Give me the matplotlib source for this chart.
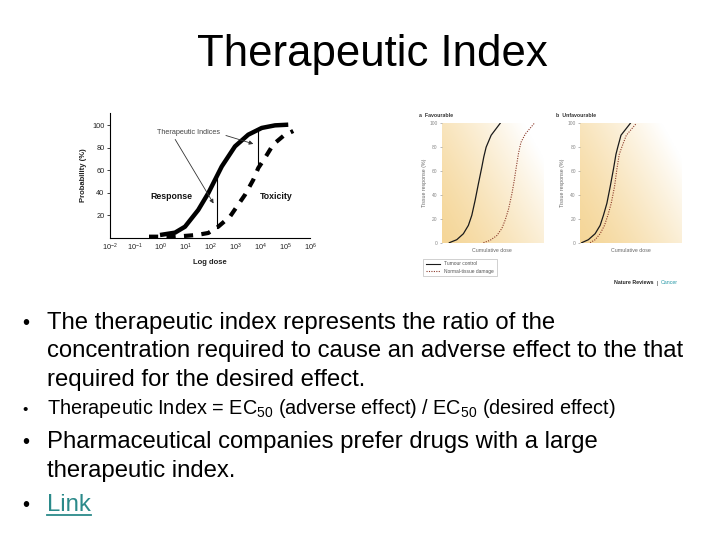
import numpy as np
import matplotlib
matplotlib.use("Agg")
import matplotlib.pyplot as plt
from matplotlib.lines import Line2D

plt.rcParams['font.family'] = ['Liberation Sans', 'DejaVu Sans']
plt.rcParams['mathtext.fontset'] = 'custom'
plt.rcParams['mathtext.rm'] = 'Liberation Sans'
plt.rcParams['mathtext.it'] = 'Liberation Sans:italic'
plt.rcParams['mathtext.bf'] = 'Liberation Sans:bold'

# ---------------- data ----------------
title = "Therapeutic Index"

# left chart: log10(dose) and probability (%)
response_logdose = [0.0, 0.6, 1.0, 1.53, 1.93, 2.2, 2.47, 3.0, 3.53, 4.07, 4.6, 5.13]
response_prob = [2.4, 4.5, 9.8, 24.7, 39.6, 51.5, 63.4, 81.3, 91.7, 97.7, 100.0, 100.6]
toxicity_logdose = [-0.44, 0.6, 1.47, 1.93, 2.33, 2.8, 3.4, 3.73, 3.93, 4.2, 4.53, 4.93, 5.33]
toxicity_prob = [0.9, 0.9, 2.4, 4.2, 9.8, 18.8, 38.2, 51.5, 62.0, 71.0, 83.0, 90.5, 95.0]
index_logdose = [2.29, 3.93]
index_top = [55.0, 96.7]
index_bottom = [8.4, 60.0]
left_xticks_exp = [-2, -1, 0, 1, 2, 3, 4, 5, 6]
left_yticks = [20, 40, 60, 80, 100]

# right panels: cumulative dose (arbitrary) and tissue response (%)
fav_tumour_dose = [7.6, 15.0, 21.6, 26.6, 30.0, 33.3, 36.6, 40.0, 42.0, 44.3, 49.3, 58.3]
fav_tumour_resp = [0, 2.5, 7.5, 14.5, 22.9, 35.4, 49.4, 63.3, 72.0, 80, 90, 100]
fav_normal_dose = [41.6, 48.3, 55.0, 60.0, 63.3, 66.6, 70.0, 72.3, 74.3, 76.6, 79.0, 83.3, 92.3]
fav_normal_resp = [0, 2, 6, 12, 19, 28, 41, 52, 63, 75, 84, 91, 100]
unf_tumour_dose = [1.7, 8.3, 15.0, 20.0, 23.3, 26.7, 30.0, 33.3, 35.7, 37.5, 40.7, 50.0]
unf_tumour_resp = [0, 2.5, 7.5, 14.5, 23, 33, 47, 62, 74, 80, 90, 100]
unf_normal_dose = [10.0, 15.0, 20.0, 24.3, 27.7, 31.0, 34.3, 36.7, 39.0, 41.5, 46.0, 56.0]
unf_normal_resp = [0, 2.5, 7.5, 14.5, 23, 33, 47, 62, 74, 80, 90, 100]
right_yticks = [0, 20, 40, 60, 80, 100]

bullets = [
    ["The therapeutic index represents the ratio of the",
     "concentration required to cause an adverse effect to the that",
     "required for the desired effect."],
    ["Therapeutic Index = EC$_{50}$ (adverse effect) / EC$_{50}$ (desired effect)"],
    ["Pharmaceutical companies prefer drugs with a large",
     "therapeutic index."],
    ["Link"],
]

W, H = 720, 540
fig = plt.figure(figsize=(7.2, 5.4), dpi=100)
fig.patch.set_facecolor('white')


def P(x, y):
    return (x / W, 1 - y / H)


def axrect(x0, y0, x1, y1):
    return [x0 / W, 1 - y1 / H, (x1 - x0) / W, (y1 - y0) / H]


# ---------------- title ----------------
fig.text(*P(372, 66), title, ha='center', va='baseline', fontsize=31.5, color='black')

# ---------------- left chart ----------------
ax = fig.add_axes(axrect(110, 113, 310, 237.7))
ax.set_xscale('log')
ax.set_xlim(10.0 ** -2, 10.0 ** 6)
ax.set_ylim(0, 111)
ax.plot(10 ** np.array(response_logdose), response_prob, color='black', lw=3.2,
        solid_capstyle='butt')
ax.plot(10 ** np.array(toxicity_logdose), toxicity_prob, color='black', lw=3.0,
        dashes=(2.2, 2.0))
for xl, yt, yb in zip(index_logdose, index_top, index_bottom):
    ax.plot([10 ** xl, 10 ** xl], [yb, yt], color='black', lw=0.8)
ax.text(10 ** 1.13, 93.2, "Therapeutic Indices", fontsize=5.2, color='#444444',
        ha='center', va='center')
ax.annotate('', xy=(10 ** 2.2, 28.3), xytext=(10 ** 0.55, 89.6),
            arrowprops=dict(arrowstyle='-|>', lw=0.6, color='#333333', mutation_scale=6))
ax.annotate('', xy=(10 ** 3.84, 82.8), xytext=(10 ** 2.53, 91.7),
            arrowprops=dict(arrowstyle='-|>', lw=0.6, color='#333333', mutation_scale=6))
ax.text(10 ** 0.47, 36.6, "Response", fontsize=6.3, fontweight='bold', ha='center',
        va='center', color='#111111')
ax.text(10 ** 4.67, 36.6, "Toxicity", fontsize=6.3, fontweight='bold', ha='center',
        va='center', color='#111111')
ax.set_xticks([10.0 ** e for e in left_xticks_exp])
ax.set_xticklabels([r"$10^{%d}$" % e for e in left_xticks_exp])
ax.xaxis.set_minor_locator(matplotlib.ticker.NullLocator())
ax.set_yticks(left_yticks)
ax.set_yticklabels([str(v) for v in left_yticks])
ax.tick_params(axis='both', labelsize=5.3, length=2, width=0.6, colors='#222222', pad=2)
ax.tick_params(axis='x', length=0, pad=3)
for s in ['top', 'right']:
    ax.spines[s].set_visible(False)
for s in ['left', 'bottom']:
    ax.spines[s].set_linewidth(0.8)
ax.set_ylabel("Probability (%)", fontsize=5.5, fontweight='bold', labelpad=4, color='#222222')
ax.set_xlabel("Log dose", fontsize=5.5, fontweight='bold', labelpad=4, color='#222222')
ax.patch.set_alpha(0)

# ---------------- right panels ----------------
c0 = np.array([245, 214, 152]) / 255.0
c1 = np.array([255, 255, 255]) / 255.0
gx, gy = np.meshgrid(np.linspace(0, 1, 150), np.linspace(0, 1, 150))
t = np.clip(0.75 * gx + 0.5 * gy, 0, 1.1) / 1.1
t = t ** 1.3
grad = c0[None, None, :] * (1 - t[..., None]) + c1[None, None, :] * t[..., None]


def panel(rect, tdose, tresp, ndose, nresp):
    a = fig.add_axes(rect)
    a.imshow(grad, extent=[0, 101, 0, 100], origin='lower', aspect='auto', zorder=0)
    a.set_xlim(0, 101)
    a.set_ylim(0, 100)
    a.plot(tdose, tresp, color='#1a1a1a', lw=0.9, zorder=3)
    a.plot(ndose, nresp, color='#8b3a2a', lw=0.8, ls=(0, (1, 1.2)), zorder=3)
    a.set_xticks([])
    a.set_yticks(right_yticks)
    a.set_yticklabels([str(v) for v in right_yticks])
    a.tick_params(axis='y', labelsize=3.5, length=1.5, width=0.4, colors='#888888', pad=1.5)
    for s in ['top', 'right', 'bottom', 'left']:
        a.spines[s].set_visible(False)
    a.set_xlabel("Cumulative dose", fontsize=3.8, color='#666666', labelpad=4)
    a.set_ylabel("Tissue response (%)", fontsize=3.8, color='#666666', labelpad=2)
    return a


axa = panel(axrect(441.7, 123.3, 543, 242.7),
            fav_tumour_dose, fav_tumour_resp, fav_normal_dose, fav_normal_resp)
axb = panel(axrect(580, 123.3, 681.7, 242.7),
            unf_tumour_dose, unf_tumour_resp, unf_normal_dose, unf_normal_resp)
fig.text(*P(419, 115), "a  Favourable", fontsize=3.8, fontweight='bold', color='#333333',
         ha='left', va='center')
fig.text(*P(556, 115), "b  Unfavourable", fontsize=3.8, fontweight='bold', color='#333333',
         ha='left', va='center')

handles = [Line2D([], [], color='#1a1a1a', lw=0.8),
           Line2D([], [], color='#8b3a2a', lw=0.8, ls=(0, (1, 1.2)))]
leg = fig.legend(handles, ["Tumour control", "Normal-tissue damage"],
                 loc='upper left', bbox_to_anchor=P(421, 256.5), fontsize=3.5,
                 frameon=True, fancybox=False, edgecolor='#999999', borderpad=0.5,
                 handlelength=3.0, labelspacing=0.5, handletextpad=0.8)
leg.get_frame().set_linewidth(0.4)
for txt in leg.get_texts():
    txt.set_color('#555555')

fig.text(*P(654, 283), "Nature Reviews", fontsize=3.8, fontweight='bold', color='#222222',
         ha='right', va='center')
fig.text(*P(657, 283), "| ", fontsize=3.8, color='#222222', ha='left', va='center')
fig.text(*P(661, 283), "Cancer", fontsize=3.8, color='#2a9aa8', ha='left', va='center')

# ---------------- bullets ----------------
big = 17.2
small = 14.3
baselines = [[329, 357, 386], [414], [448, 477], [511]]
sizes = [big, small, big, big]
bullet_sizes = [14.5, 11.0, 14.5, 14.5]
for lines, bls, fs, bs in zip(bullets, baselines, sizes, bullet_sizes):
    fig.text(*P(22, bls[0]), "\u2022", fontsize=bs, ha='left', va='baseline',
             color='black')
    for ln, bl in zip(lines, bls):
        color = '#2b8a8a' if ln == "Link" else 'black'
        fig.text(*P(47, bl), ln, fontsize=fs, ha='left', va='baseline', color=color)

# underline for link
fig.add_artist(Line2D([47 / W, 91 / W], [1 - 515 / H, 1 - 515 / H], color='#2b8a8a', lw=1.3))

fig.savefig("out.png", dpi=100)
